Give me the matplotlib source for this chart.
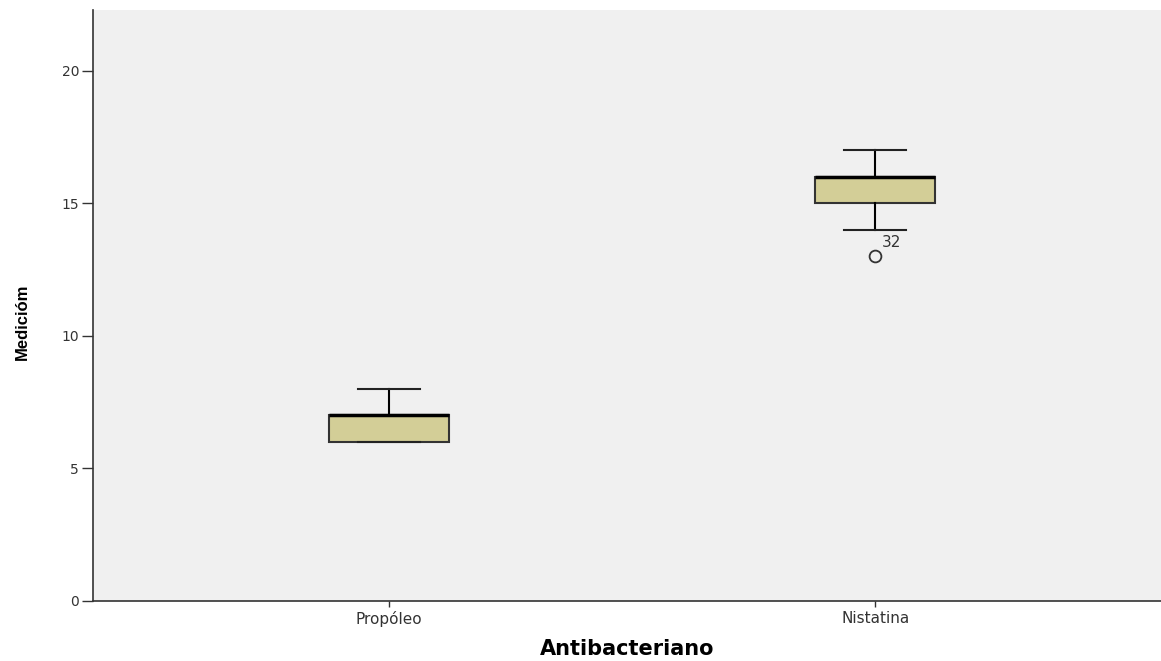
import matplotlib
matplotlib.use("Agg")
import matplotlib.pyplot as plt

# boxplot summary
groups = ["Propóleo", "Nistatina"]
q1 = [6, 15]
med = [7, 16]
q3 = [7, 16]
wlo = [6, 14]
whi = [8, 17]
fliers = [[], [13]]
flier_ids = [[], ["32"]]
yticks = [0, 5, 10, 15, 20]

plt.rcParams["font.family"] = ["DejaVu Sans"]

fig = plt.figure(figsize=(11.61, 6.61), dpi=100)
ax = fig.add_axes([0.0801, 0.0908, 0.9199, 0.8941])
ax.set_facecolor("#f0f0f0")

stats = []
for i, g in enumerate(groups):
    stats.append(dict(label=g, q1=q1[i], med=med[i], q3=q3[i],
                      whislo=wlo[i], whishi=whi[i], fliers=fliers[i]))

pos = list(range(1, len(groups) + 1))
ax.bxp(stats, positions=pos, widths=0.247, patch_artist=True,
       boxprops=dict(facecolor="#d3ce97", edgecolor="#333333", linewidth=1.5),
       medianprops=dict(color="black", linewidth=2.5),
       whiskerprops=dict(color="black", linewidth=1.5),
       capprops=dict(color="#222222", linewidth=1.5),
       capwidths=0.128,
       flierprops=dict(marker="o", markerfacecolor="none", markeredgecolor="#333333",
                       markersize=8.5, markeredgewidth=1.3))

for i, p in enumerate(pos):
    for v, lab in zip(fliers[i], flier_ids[i]):
        ax.annotate(lab, xy=(p, v), xytext=(5, 7), textcoords="offset points",
                    fontsize=11, color="#333333")

ax.set_xlim(0.391, 2.588)
ax.set_ylim(0, 22.3)
ax.set_yticks(yticks)
ax.set_xticks(pos)
ax.set_xticklabels(groups)
for s in ["top", "right"]:
    ax.spines[s].set_visible(False)
for s in ["left", "bottom"]:
    ax.spines[s].set_color("#333333")
    ax.spines[s].set_linewidth(1.2)
ax.tick_params(axis="y", direction="out", length=8, width=1.0, pad=2,
               labelsize=10, colors="#333333")
ax.tick_params(axis="x", direction="out", length=4.5, width=1.0, pad=3,
               labelsize=11, colors="#333333")

ax.set_ylabel("Medicióm", fontsize=12, fontweight="bold",
              family=["Liberation Sans", "DejaVu Sans"])
ax.yaxis.set_label_coords(-0.059, 0.472)
ax.set_xlabel("Antibacteriano", fontsize=15, fontweight="bold", labelpad=8)

fig.savefig("out.png", dpi=100)
